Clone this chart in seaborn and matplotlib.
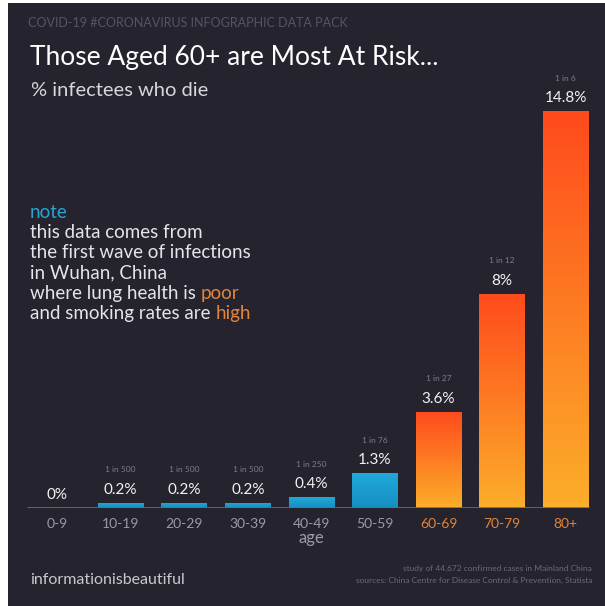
import numpy as np
import pandas as pd
import matplotlib
matplotlib.use("Agg")
import matplotlib.pyplot as plt
import matplotlib.colors as mcolors
from matplotlib.patches import Rectangle
import seaborn as sns

# data
ages = ["0-9", "10-19", "20-29", "30-39", "40-49", "50-59", "60-69", "70-79", "80+"]
death_rate = [0.0, 0.2, 0.2, 0.2, 0.4, 1.3, 3.6, 8.0, 14.8]
rate_labels = ["0%", "0.2%", "0.2%", "0.2%", "0.4%", "1.3%", "3.6%", "8%", "14.8%"]
one_in = ["", "1 in 500", "1 in 500", "1 in 500", "1 in 250", "1 in 76", "1 in 27", "1 in 12", "1 in 6"]
high_risk = [False, False, False, False, False, False, True, True, True]

note_lines = ["this data comes from", "the first wave of infections", "in Wuhan, China"]

BG = "#25242e"
BLUE_TOP, BLUE_BOT = "#1fa9da", "#168fc0"
ORG_TOP, ORG_BOT = "#ff4a1c", "#fcae2a"
GREY = "#9a9aa6"
ORANGE_TXT = "#e3843c"
NOTE_C = "#e4e4ea"

sns.set_theme(style="dark")
plt.rcParams["font.family"] = ["Lato", "DejaVu Sans"]

W, H = 605, 606
fig = plt.figure(figsize=(W / 100, H / 100), dpi=100, facecolor="white")
fig.patches.append(Rectangle((8 / W, 0), 1 - 8 / W, 1 - 3 / H, transform=fig.transFigure,
                             facecolor=BG, edgecolor="none", zorder=-10))


def fx(px):
    return px / W


def fy(py):
    return 1 - py / H


# axes placed so the bars sit where they do in the infographic
ax = fig.add_axes([fx(25.2), fy(508), 572.4 / W, 402 / H])
ax.set_facecolor("none")

df = pd.DataFrame({"age": ages, "rate": death_rate})
pal = [ORG_TOP if h else BLUE_TOP for h in high_risk]
sns.barplot(data=df, x="age", y="rate", hue="age", palette=pal, width=0.72,
            legend=False, ax=ax, saturation=1, linewidth=0, edgecolor="none")

for s in ax.spines.values():
    s.set_visible(False)
ax.set_yticks([])
ax.grid(False)
ax.set_ylabel("")
ax.set_xlabel("age", color=GREY, fontsize=12, labelpad=0)

# gradient fill on each bar
for patch, h in zip(ax.patches, high_risk):
    x0, y0 = patch.get_x(), patch.get_y()
    w, ht = patch.get_width(), patch.get_height()
    if ht <= 0:
        continue
    top, bot = (ORG_TOP, ORG_BOT) if h else (BLUE_TOP, BLUE_BOT)
    cmap = mcolors.LinearSegmentedColormap.from_list("g", [bot, top])
    grad = np.linspace(0, 1, 256).reshape(-1, 1)
    im = ax.imshow(grad, extent=[x0, x0 + w, y0, y0 + ht], origin="lower",
                   cmap=cmap, aspect="auto", zorder=patch.get_zorder() + 0.1)
    im.set_clip_path(patch)

ax.set_xlim(-0.5, 8.5)
ax.set_ylim(0, 15)
ax.axhline(0, color="#6c6c76", lw=1.2, zorder=5, xmin=0.005, xmax=0.985)

# tick labels
ax.tick_params(axis="x", length=0, pad=7)
ax.set_xticks(range(len(ages)))
ax.set_xticklabels(ages, fontsize=10)
for lab, h in zip(ax.get_xticklabels(), high_risk):
    lab.set_color(ORANGE_TXT if h else GREY)

# value labels
for i, (v, lab, oi) in enumerate(zip(death_rate, rate_labels, one_in)):
    ax.annotate(lab, (i, v), xytext=(0, 13), textcoords="offset pixels",
                ha="center", va="center", color="#f2f2f2", fontsize=11)
    if oi:
        ax.annotate(oi, (i, v), xytext=(0, 33), textcoords="offset pixels",
                    ha="center", va="center", color="#7d7d88", fontsize=6)

# header texts
fig.text(fx(28), fy(23), "COVID-19 #CORONAVIRUS INFOGRAPHIC DATA PACK", color="#55555f",
         fontsize=9, va="center")
fig.text(fx(30), fy(65), "Those Aged 60+ are Most At Risk...", color="white",
         fontsize=19, va="baseline")
fig.text(fx(31), fy(96), "% infectees who die", color="#d6d6dc", fontsize=14.5, va="baseline")

# note block
fig.text(fx(30), fy(212), "note", color="#2aa3d4", fontsize=13.5, va="center")
for k, line in enumerate(note_lines):
    fig.text(fx(30), fy(233 + 20 * k), line, color=NOTE_C, fontsize=13.5, va="center")
t1 = fig.text(fx(30), fy(293), "where lung health is ", color=NOTE_C, fontsize=13.5, va="center")
t2 = fig.text(fx(30), fy(313), "and smoking rates are ", color=NOTE_C, fontsize=13.5, va="center")

fig.canvas.draw()
r = fig.canvas.get_renderer()
for t, word in [(t1, "poor"), (t2, "high")]:
    bb = t.get_window_extent(renderer=r)
    fig.text(bb.x1 / W, t.get_position()[1], word, color=ORANGE_TXT, fontsize=13.5, va="center")

# footer
fig.text(fx(30), fy(580), "informationisbeautiful", color="#c8c8d0", fontsize=11.5, va="center")
fig.text(fx(592), fy(568), "study of 44,672 confirmed cases in Mainland China", color="#6a6a76",
         fontsize=6, ha="right", va="center")
fig.text(fx(592), fy(580), "sources: China Centre for Disease Control & Prevention, Statista",
         color="#6a6a76", fontsize=6, ha="right", va="center")

fig.savefig("out.png", dpi=100, facecolor=fig.get_facecolor())
